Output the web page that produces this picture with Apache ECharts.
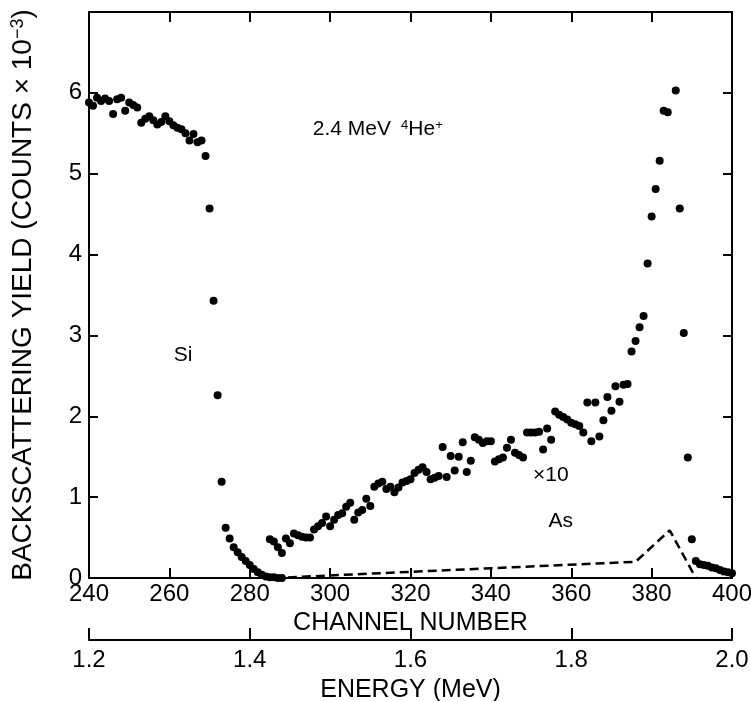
<!DOCTYPE html>
<html>
<head>
<meta charset="utf-8">
<script src="https://cdn.jsdelivr.net/npm/echarts@6/dist/echarts.min.js"></script>
<style>
  html, body { margin: 0; padding: 0; background: #fff; }
  #chart { width: 751px; height: 701px; }
</style>
</head>
<body>
<div id="chart"></div>
<script>
// Si signal, one value per channel starting at channel 240 (counts x 10^-3)
const siStart = 240;
const siCounts = [
  5.88, 5.84, 5.94, 5.90, 5.93, 5.90, 5.74, 5.92, 5.94, 5.78,
  5.88, 5.85, 5.82, 5.63, 5.68, 5.71, 5.66, 5.61, 5.64, 5.71,
  5.65, 5.60, 5.57, 5.55, 5.50, 5.41, 5.49, 5.39, 5.41, 5.22,
  4.57, 3.43, 2.26, 1.19, 0.62, 0.49, 0.38, 0.32, 0.26, 0.21,
  0.16, 0.11, 0.07, 0.04, 0.02, 0.01, 0.01, 0.00, 0.00
];
// As signal (x10), one value per channel starting at channel 285
const asStart = 285;
const asCounts = [
  0.48, 0.45, 0.38, 0.31, 0.49, 0.43, 0.55, 0.53, 0.51, 0.50,
  0.50, 0.60, 0.64, 0.68, 0.76, 0.64, 0.72, 0.78, 0.80, 0.88,
  0.93, 0.72, 0.81, 0.84, 0.98, 0.89, 1.13, 1.17, 1.19, 1.10,
  1.13, 1.06, 1.12, 1.18, 1.20, 1.22, 1.30, 1.34, 1.37, 1.31,
  1.22, 1.24, 1.26, 1.62, 1.25, 1.51, 1.33, 1.50, 1.68, 1.31,
  1.45, 1.74, 1.71, 1.67, 1.69, 1.69, 1.44, 1.47, 1.49, 1.61,
  1.71, 1.55, 1.52, 1.49, 1.80, 1.80, 1.80, 1.81, 1.59, 1.85,
  1.71, 2.06, 2.02, 1.99, 1.96, 1.92, 1.90, 1.88, 1.80, 2.17,
  1.69, 2.17, 1.75, 1.95, 2.24, 2.07, 2.37, 2.18, 2.39, 2.40,
  2.80, 2.93, 3.10, 3.24, 3.89, 4.47, 4.81, 5.16, 5.78, 5.76,
  null, 6.03, 4.57, 3.03, 1.49, 0.48, 0.21, 0.17, 0.16, 0.15,
  0.13, 0.12, 0.10, 0.08, 0.07, 0.06
];
// dashed As curve
const dashChannels = [286, 376, 384.5, 391];
const dashCounts = [0, 0.20, 0.59, 0];

const channelTicks = [240, 400, 20];
const energyTicks = [1.2, 2.0, 0.2];
const yTicks = [0, 7, 1];

const font = 'Liberation Sans';
const chart = echarts.init(document.getElementById('chart'));

const siData = siCounts.map((v, i) => [siStart + i, v]);
const asData = asCounts.map((v, i) => [asStart + i, v]).filter(d => d[1] !== null);
const dashData = dashChannels.map((c, i) => [c, dashCounts[i]]);

const axisLine = { show: true, onZero: false, lineStyle: { color: '#000', width: 2 } };
const tickIn = len => ({ show: true, inside: true, length: len, lineStyle: { color: '#000', width: 2 } });

chart.setOption({
  animation: false,
  backgroundColor: '#fff',
  grid: { left: 89, right: 19, top: 12, bottom: 123, containLabel: false, outerBoundsMode: 'none' },
  xAxis: [
    {
      type: 'value', position: 'bottom',
      min: channelTicks[0], max: channelTicks[1], interval: channelTicks[2],
      axisLine: axisLine, axisTick: tickIn(10), splitLine: { show: false },
      axisLabel: { color: '#000', fontFamily: font, fontSize: 24, margin: 4 },
      name: 'CHANNEL NUMBER', nameLocation: 'middle', nameGap: 29,
      nameTextStyle: { color: '#000', fontFamily: font, fontSize: 25 }
    },
    {
      type: 'value', position: 'bottom', offset: 62,
      min: energyTicks[0], max: energyTicks[1], interval: energyTicks[2],
      axisLine: axisLine, axisTick: tickIn(12), splitLine: { show: false },
      axisLabel: { color: '#000', fontFamily: font, fontSize: 24, margin: 8,
        formatter: v => v.toFixed(1) },
      name: 'ENERGY (MeV)', nameLocation: 'middle', nameGap: 38,
      nameTextStyle: { color: '#000', fontFamily: font, fontSize: 25 }
    },
    {
      type: 'value', position: 'top',
      min: channelTicks[0], max: channelTicks[1], interval: channelTicks[2],
      axisLine: axisLine, axisTick: tickIn(10), splitLine: { show: false },
      axisLabel: { show: false }
    }
  ],
  yAxis: [
    {
      type: 'value', position: 'left',
      min: yTicks[0], max: yTicks[1], interval: yTicks[2],
      axisLine: axisLine, axisTick: tickIn(9), splitLine: { show: false },
      axisLabel: { color: '#000', fontFamily: font, fontSize: 24, margin: 7,
        formatter: v => (v === 7 ? '' : String(v)) },
      name: '{a|BACKSCATTERING YIELD (COUNTS × 10}{s|−3}{a|)}',
      nameLocation: 'middle', nameRotate: 90, nameGap: 52,
      nameTextStyle: {
        rich: {
          a: { color: '#000', fontFamily: font, fontSize: 28 },
          s: { color: '#000', fontFamily: font, fontSize: 18, verticalAlign: 'top' }
        }
      }
    },
    {
      type: 'value', position: 'right',
      min: yTicks[0], max: yTicks[1], interval: yTicks[2],
      axisLine: axisLine, axisTick: tickIn(9), splitLine: { show: false },
      axisLabel: { show: false }
    }
  ],
  series: [
    { name: 'Si', type: 'scatter', data: siData, symbolSize: 8,
      itemStyle: { color: '#000', opacity: 1 } },
    { name: 'As x10', type: 'scatter', data: asData, symbolSize: 8,
      itemStyle: { color: '#000', opacity: 1 } },
    { name: 'As', type: 'line', data: dashData, symbol: 'none',
      lineStyle: { color: '#000', width: 2.5, type: [9, 5] } }
  ]
});

// text annotations, placed at data coordinates
const notes = [
  { at: [295.7, 5.55], text: '{n|2.4 MeV}   {s|4}{n|He}{s|+}', align: 'left' },
  { at: [263.4, 2.76], text: '{n|Si}', align: 'center' },
  { at: [354.9, 1.27], text: '{n|×10}', align: 'center' },
  { at: [357.4, 0.70], text: '{n|As}', align: 'center' }
];
chart.setOption({
  graphic: notes.map(n => {
    const p = chart.convertToPixel({ xAxisIndex: 0, yAxisIndex: 0 }, n.at);
    return {
      type: 'text', x: p[0], y: p[1],
      style: {
        text: n.text, align: n.align, verticalAlign: 'middle',
        rich: {
          n: { fill: '#000', fontFamily: font, fontSize: 21 },
          s: { fill: '#000', fontFamily: font, fontSize: 13, verticalAlign: 'top' }
        }
      }
    };
  })
});
</script>
</body>
</html>
